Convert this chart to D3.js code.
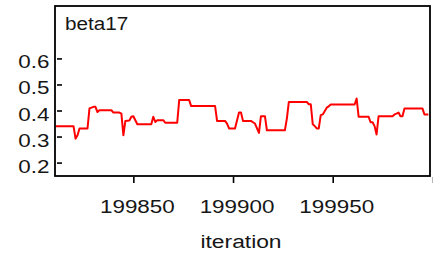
<!DOCTYPE html>
<html><head><meta charset="utf-8">
<script src="https://cdn.jsdelivr.net/npm/d3@7"></script>
<style>html,body{margin:0;padding:0;background:#fff;}svg{display:block;}</style>
</head><body>
<script>
const title = "beta17";
const xLabel = "iteration";
const xTicks = [199850, 199900, 199950, 200000];
const xTickLabels = ["199850", "199900", "199950", ""];
const yTicks = [0.2, 0.3, 0.4, 0.5, 0.6];
const yTickLabels = ["0.2", "0.3", "0.4", "0.5", "0.6"];
const iterations = [199811,199820,199821,199822,199823,199827,199828,199830,199831,199832,199833,199839,199840,199843,199844,199845,199846,199848,199849,199850,199852,199859,199860,199861,199862,199865,199866,199872,199873,199878,199879,199891,199892,199896,199897,199898,199901,199903,199904,199905,199909,199910,199911,199913,199914,199916,199917,199926,199927,199928,199937,199938,199939,199940,199941,199942,199943,199944,199945,199947,199948,199949,199961,199962,199963,199968,199969,199970,199971,199972,199973,199980,199981,199982,199983,199984,199985,199986,199995,199996,199998];
const values = [0.340,0.340,0.292,0.305,0.331,0.331,0.408,0.414,0.414,0.394,0.401,0.401,0.392,0.392,0.388,0.305,0.360,0.362,0.376,0.378,0.347,0.347,0.376,0.356,0.363,0.363,0.353,0.353,0.440,0.440,0.417,0.417,0.360,0.360,0.350,0.331,0.331,0.392,0.392,0.360,0.360,0.355,0.350,0.314,0.378,0.378,0.324,0.324,0.369,0.433,0.433,0.424,0.424,0.347,0.340,0.331,0.331,0.382,0.385,0.411,0.416,0.423,0.423,0.446,0.376,0.376,0.355,0.355,0.340,0.308,0.378,0.378,0.385,0.388,0.392,0.378,0.378,0.408,0.408,0.385,0.385];

const W = 433, H = 256;
const L = 55, T = 6, R = 430, B = 176;
const svg = d3.select("body").append("svg").attr("width", W).attr("height", H);
const x = d3.scaleLinear().domain([199810.7, 199998.8]).range([L, R]);
const y = d3.scaleLinear().domain([0.1485, 0.8013]).range([B, T]);
const font = "'Liberation Sans', Arial, sans-serif";
const txtCol = "#161616";

svg.append("clipPath").attr("id", "clip").append("rect")
  .attr("x", L).attr("y", T).attr("width", R - L).attr("height", B - T);

const data = iterations.map((it, i) => ({it, v: values[i]}));
svg.append("path").datum(data)
  .attr("clip-path", "url(#clip)")
  .attr("fill", "none").attr("stroke", "#ff0000").attr("stroke-width", 2)
  .attr("stroke-linejoin", "round")
  .attr("d", d3.line().x(d => x(d.it)).y(d => y(d.v)));

svg.append("rect").attr("x", L).attr("y", T).attr("width", R - L).attr("height", B - T)
  .attr("fill", "none").attr("stroke", "#000").attr("stroke-width", 1.8);

// y ticks (inside the box)
const ya = svg.append("g").attr("transform", `translate(${L + 2},0)`)
  .call(d3.axisRight(y).tickValues(yTicks).tickSize(5).tickFormat(""));
ya.select(".domain").remove();
ya.selectAll(".tick line").attr("stroke", "#000").attr("stroke-width", 1.6);

yTicks.forEach((v, i) => {
  svg.append("g").attr("transform", `translate(49.5,${y(v) + 10}) scale(1.18,1)`)
    .append("text").attr("text-anchor", "end").attr("font-family", font)
    .attr("font-size", 19).attr("fill", txtCol).text(yTickLabels[i]);
});

// x ticks
const xa = svg.append("g").attr("transform", `translate(0,${B + 1})`)
  .call(d3.axisBottom(x).tickValues(xTicks).tickSize(6).tickFormat(""));
xa.select(".domain").remove();
xa.selectAll(".tick line").attr("stroke", (d) => d === 200000 ? "#888" : "#000").attr("stroke-width", (d) => d === 200000 ? 1 : 1.6);

xTicks.forEach((v, i) => {
  if (!xTickLabels[i]) return;
  svg.append("g").attr("transform", `translate(${x(v) + 4},213.3) scale(1.18,1)`)
    .append("text").attr("text-anchor", "middle").attr("font-family", font)
    .attr("font-size", 19).attr("fill", txtCol).text(xTickLabels[i]);
});

svg.append("g").attr("transform", `translate(241,248) scale(1.2,1)`)
  .append("text").attr("text-anchor", "middle").attr("font-family", font)
  .attr("font-size", 19).attr("fill", txtCol).text(xLabel);

svg.append("g").attr("transform", `translate(65,30) scale(1.09,1)`)
  .append("text").attr("text-anchor", "start").attr("font-family", font)
  .attr("font-size", 19).attr("fill", txtCol).text(title);
</script>
</body></html>
